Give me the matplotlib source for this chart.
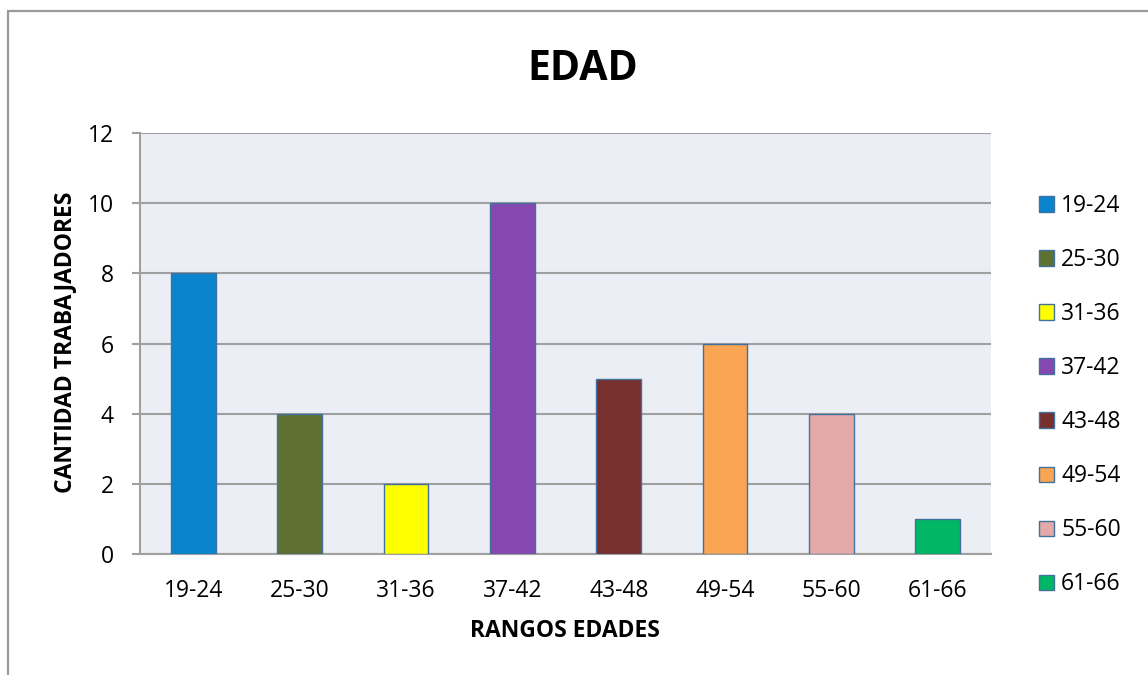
import matplotlib.pyplot as plt
from matplotlib.patches import Patch, Rectangle

# age ranges and number of workers in each
rangos = ["19-24", "25-30", "31-36", "37-42", "43-48", "49-54", "55-60", "61-66"]
cantidad = [8, 4, 2, 10, 5, 6, 4, 1]
colores = ["#0A84CC", "#5F7033", "#FFFF00", "#8548B0",
           "#77302E", "#F9A553", "#E2A9A8", "#00B765"]

plt.rcParams['font.family'] = ['Open Sans', 'DejaVu Sans']

W, H = 1148, 675
fig = plt.figure(figsize=(W / 100, H / 100), dpi=100)

# outer chart frame
fig.patches.append(Rectangle((8 / W, -0.05), 1.2, 1 - 11 / H + 0.05,
                             transform=fig.transFigure, fill=False,
                             edgecolor="#9A9A9A", linewidth=1.6))

ax = fig.add_axes([140 / W, 1 - 554 / H, 851 / W, 421 / H])
ax.set_facecolor("#EBEEF4")

x = range(len(rangos))
ax.bar(x, cantidad, width=0.42, color=colores, edgecolor="#41719C",
       linewidth=1.0, zorder=3)

ax.set_xlim(-0.5, len(rangos) - 0.5)
ax.set_ylim(0, 12)
ax.set_yticks(range(0, 13, 2))
ax.set_xticks(list(x))
ax.set_xticklabels(rangos)
ax.grid(axis="y", color="#A0A0A0", linewidth=1.5, zorder=1)

for s in ["top", "right"]:
    ax.spines[s].set_visible(False)
for s in ["left", "bottom"]:
    ax.spines[s].set_color("#A0A0A0")
    ax.spines[s].set_linewidth(1.5)

ax.tick_params(axis="y", length=6, width=1.5, color="#A0A0A0",
               labelsize=16.5, pad=13)
ax.tick_params(axis="x", length=0, labelsize=16.5, pad=18)

fig.text(583 / W, 1 - 69 / H, "EDAD", ha="center", va="center",
         fontsize=29.5, fontweight="bold")
fig.text(565 / W, 1 - 631 / H, "RANGOS EDADES", ha="center", va="center",
         fontsize=16.5, fontweight="bold")
fig.text(65 / W, 1 - 342 / H, "CANTIDAD TRABAJADORES", ha="center",
         va="center", rotation=90, fontsize=16.5, fontweight="bold")

handles = [Patch(facecolor=c, edgecolor="#41719C", linewidth=1.0)
           for c in colores]
fig.legend(handles, rangos, loc="upper left",
           bbox_to_anchor=(1030 / W, 1 - 185 / H), frameon=False,
           fontsize=16.5, handlelength=0.66, handleheight=0.66,
           handletextpad=0.3, labelspacing=1.31, borderaxespad=0)

fig.savefig("out.png", dpi=100)
